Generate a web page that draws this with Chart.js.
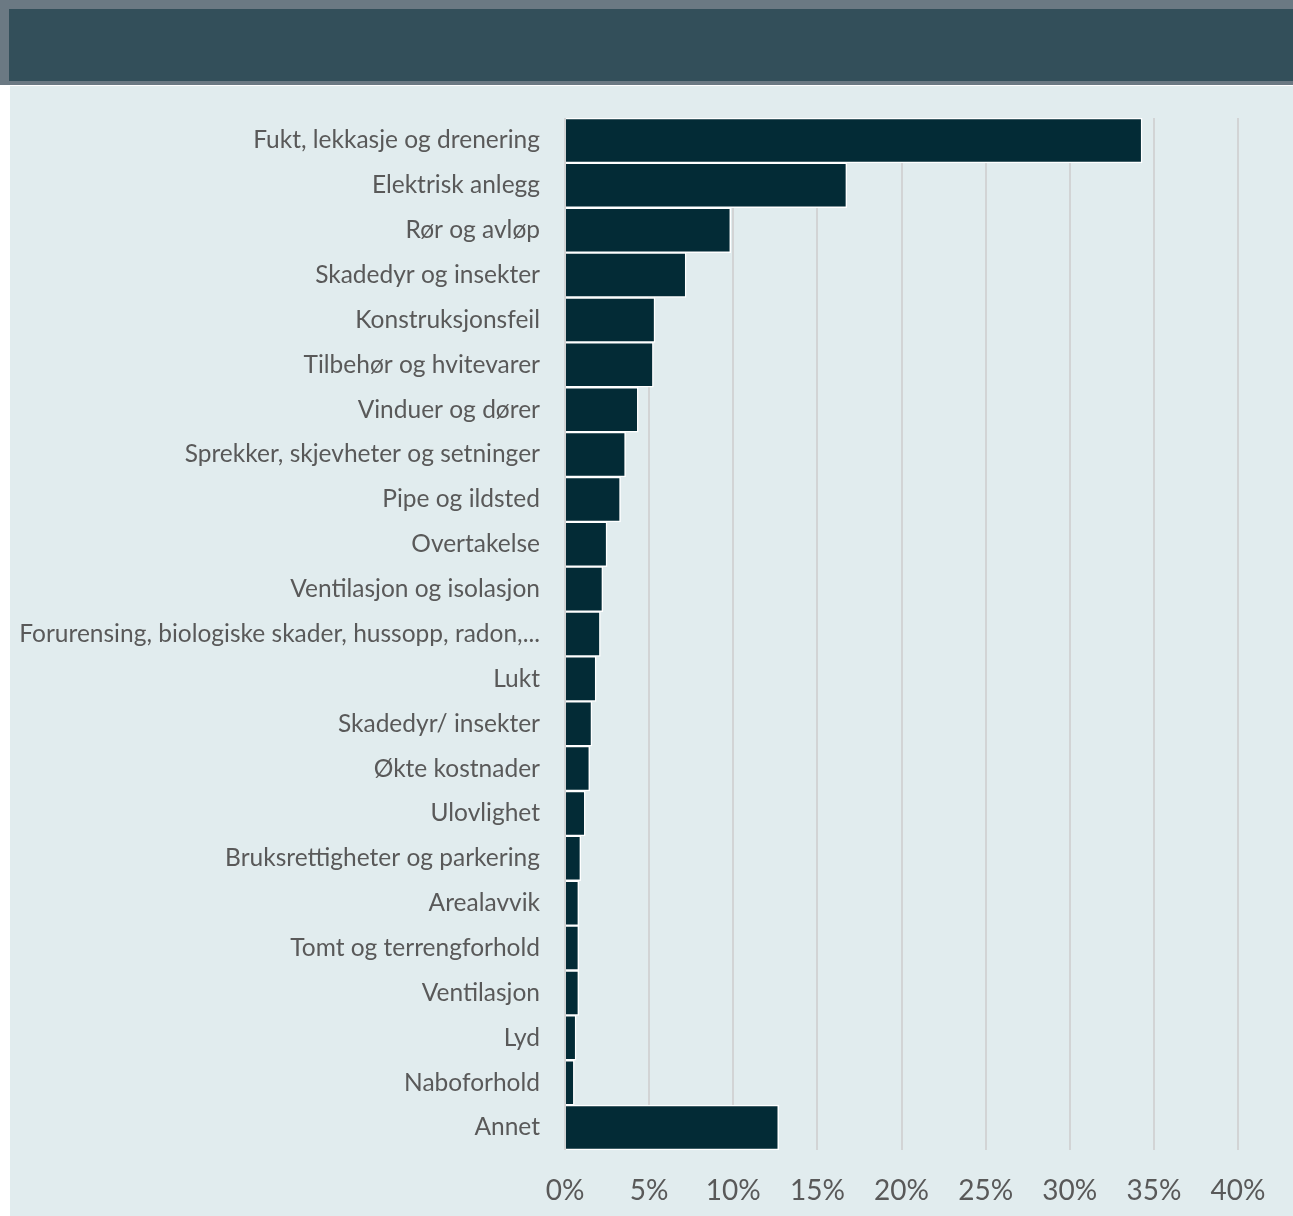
<!DOCTYPE html>
<html>
<head>
<meta charset="utf-8">
<script src="https://cdn.jsdelivr.net/npm/chart.js@4"></script>
<style>
  html, body { margin: 0; padding: 0; background: #fff; }
  body { width: 1293px; height: 1216px; position: relative; overflow: hidden; }
  .topband { position: absolute; left: 0; top: 0; width: 1293px; height: 85px; background: #6b7983; }
  .header { position: absolute; left: 9px; top: 9px; width: 1284px; height: 72px; background: #334f5a; }
  .panel { position: absolute; left: 10px; top: 86px; width: 1283px; height: 1130px; background: #e1ecee; }
  #chart { position: absolute; left: 0; top: 0; }
</style>
</head>
<body>
<div class="topband"></div>
<div class="header"></div>
<div class="panel">
  <canvas id="chart" width="1283" height="1130"></canvas>
</div>
<script>
var categories = [
	'Fukt, lekkasje og drenering',
	'Elektrisk anlegg',
	'Rør og avløp',
	'Skadedyr og insekter',
	'Konstruksjonsfeil',
	'Tilbehør og hvitevarer',
	'Vinduer og dører',
	'Sprekker, skjevheter og setninger',
	'Pipe og ildsted',
	'Overtakelse',
	'Ventilasjon og isolasjon',
	'Forurensing, biologiske skader, hussopp, radon,...',
	'Lukt',
	'Skadedyr/ insekter',
	'Økte kostnader',
	'Ulovlighet',
	'Bruksrettigheter og parkering',
	'Arealavvik',
	'Tomt og terrengforhold',
	'Ventilasjon',
	'Lyd',
	'Naboforhold',
	'Annet',
];

// andel saker i prosent
var shares = [34.3, 16.75, 9.85, 7.2, 5.35, 5.25, 4.35, 3.6, 3.3, 2.5, 2.25, 2.1, 1.85, 1.6, 1.47, 1.2, 0.94, 0.82, 0.82, 0.82, 0.66, 0.55, 12.7];

var tickStep = 5;
var tickMax = 40;

var labelFont = "Lato, 'Open Sans', sans-serif";

var ctx = document.getElementById('chart');
var chart = new Chart(ctx, {
	type: 'bar',
	data: {
		labels: categories,
		datasets: [
			{
				data: shares,
				backgroundColor: '#032b36',
				borderColor: '#ffffff',
				borderWidth: 1.5,
				borderSkipped: 'start',
				barPercentage: 1,
				categoryPercentage: 1,
			},
		],
	},
	options: {
		indexAxis: 'y',
		responsive: false,
		animation: false,
		layout: {
			padding: { top: 32, right: 55, bottom: 0, left: 0 },
		},
		plugins: {
			legend: { display: false },
			tooltip: { enabled: false },
		},
		scales: {
			x: {
				min: 0,
				max: tickMax,
				border: { display: false },
				grid: {
					color: '#d2d4d5',
					lineWidth: 2,
					drawTicks: false,
				},
				ticks: {
					stepSize: tickStep,
					padding: 24,
					color: '#595959',
					font: { family: labelFont, size: 28 },
					callback: function (value) {
						return value + '%';
					},
				},
				afterFit: function (scale) {
					scale.height = 66;
				},
			},
			y: {
				border: { display: false },
				grid: { display: false, drawTicks: false },
				ticks: {
					padding: 25,
					autoSkip: false,
					color: '#595959',
					font: { family: labelFont, size: 24.5 },
				},
				afterFit: function (scale) {
					// fast venstremarg, og ingen ekstra luft over/under kategoriene
					scale.width = 555;
					scale.paddingTop = 0;
					scale.paddingBottom = 0;
				},
			},
		},
	},
});
</script>
</body>
</html>
